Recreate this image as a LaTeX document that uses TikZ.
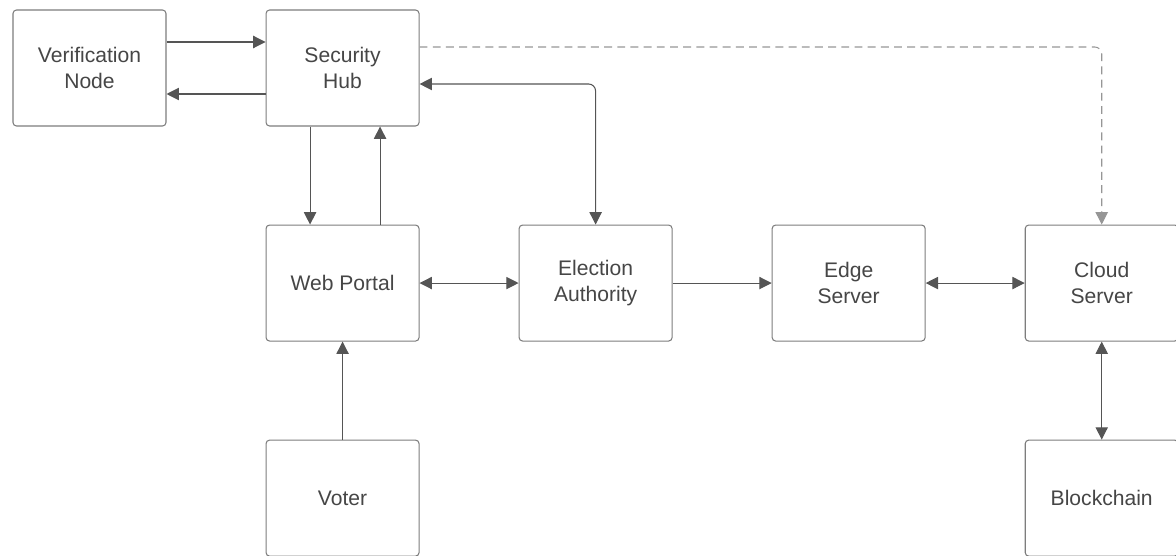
\documentclass[tikz,border=0pt]{standalone}
\usepackage{fontspec}
\setmainfont{Liberation Sans}
\usepackage{xcolor}
\usetikzlibrary{arrows.meta,positioning}
\definecolor{boxgray}{RGB}{125,125,125}
\definecolor{linegray}{RGB}{85,85,85}
\definecolor{dashgray}{RGB}{150,150,150}
\definecolor{textgray}{RGB}{70,70,70}

\begin{document}
\begin{tikzpicture}[node distance=1.96cm and 1.98cm,
  every node/.style={font=\fontsize{12}{14.5}\selectfont, text=textgray},
  box/.style={draw=boxgray, line width=0.6pt, rounded corners=2pt, fill=white, minimum width=3.06cm, minimum height=2.32cm, align=center, inner sep=0pt},
  link/.style={draw=linegray, line width=0.6pt, -{Triangle[length=7pt,width=7pt]}},
  twoway/.style={link, {Triangle[length=7pt,width=7pt]}-{Triangle[length=7pt,width=7pt]}}]
  \useasboundingbox (0,0) rectangle (23.52,-11.12);
  % top row
  \node[box] (verif) at (1.79,-1.36) {Verification\\Node};
  \node[box,right=of verif] (hub) {Security\\Hub};
  % middle row
  \node[box,below=of hub] (portal) {Web Portal};
  \node[box,right=of portal] (authority) {Election\\Authority};
  \node[box,right=of authority] (edge) {Edge\\Server};
  \node[box,right=of edge] (cloud) {Cloud\\Server};
  % bottom row
  \node[box,below=of portal] (voter) {Voter};
  \node[box,below=of cloud] (chain) {Blockchain};
  % connectors
  \draw[link] ([yshift=0.52cm]verif.east) -- ([yshift=0.52cm]hub.west);
  \draw[link] ([yshift=-0.52cm]hub.west) -- ([yshift=-0.52cm]verif.east);
  \draw[link] ([xshift=-0.65cm]hub.south) -- ([xshift=-0.65cm]portal.north);
  \draw[link] ([xshift=0.75cm]portal.north) -- ([xshift=0.75cm]hub.south);
  \draw[twoway,rounded corners=4pt] ([yshift=-0.32cm]hub.east) -| (authority.north);
  \draw[link,draw=dashgray,dash pattern=on 4.5pt off 3pt,rounded corners=4pt] ([yshift=0.42cm]hub.east) -| (cloud.north);
  \draw[twoway] (portal) -- (authority);
  \draw[link] (authority) -- (edge);
  \draw[twoway] (edge) -- (cloud);
  \draw[twoway] (cloud) -- (chain);
  \draw[link] (voter) -- (portal);
\end{tikzpicture}
\end{document}
